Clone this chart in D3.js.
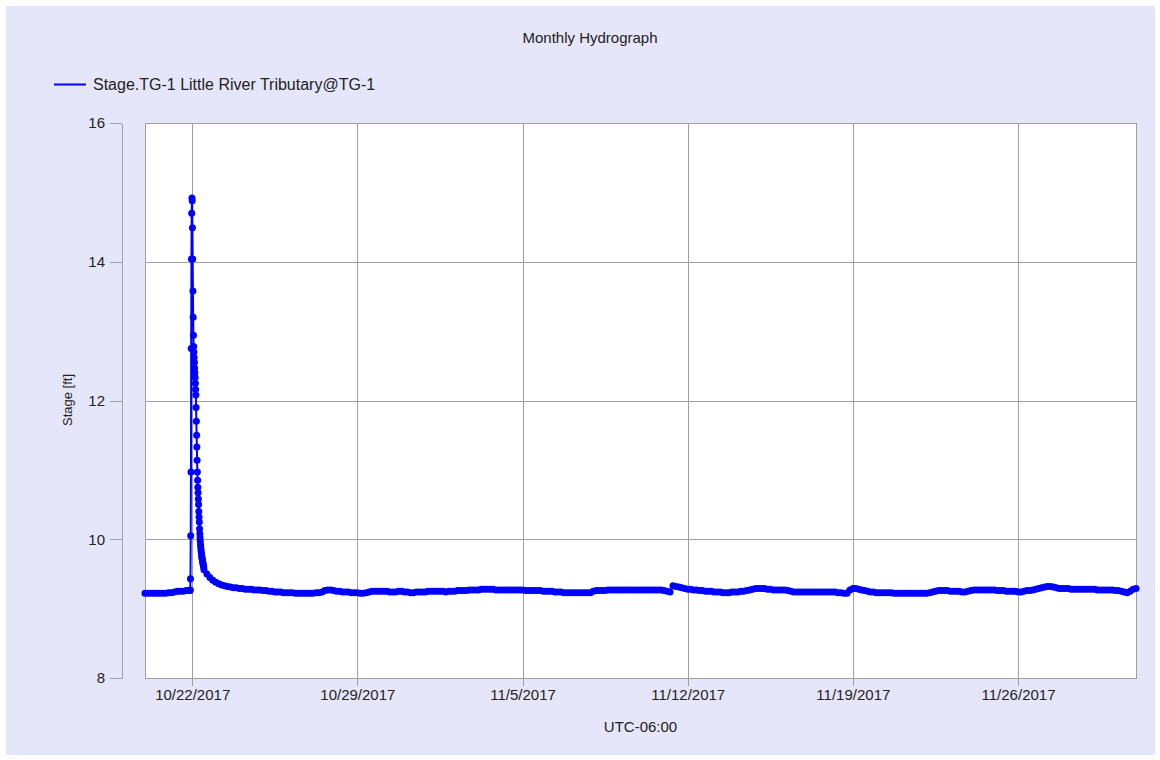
<!DOCTYPE html>
<html>
<head>
<meta charset="UTF-8">
<title>Monthly Hydrograph</title>
<style>
  body { margin: 0; background: #ffffff; }
  #canvas { width: 1160px; height: 760px; }
  text { font-family: "Liberation Sans", Arial, sans-serif; fill: #222; }
  .grid line { stroke: #a0a0a0; stroke-width: 1; shape-rendering: crispEdges; }
  .axis path, .axis line { stroke: #a0a0a0; shape-rendering: crispEdges; }
  .axis text { font-size: 15px; fill: #222; }
</style>
<script src="https://cdn.jsdelivr.net/npm/d3@7"></script>
</head>
<body>
<div id="canvas"></div>
<script>
// labels
var chartTitle = "Monthly Hydrograph";
var seriesName = "Stage.TG-1 Little River Tributary@TG-1";
var yLabel = "Stage [ft]";
var xLabel = "UTC-06:00";

// axis ranges / ticks
var xDomain = ["2017-10-20T00:00Z", "2017-12-01T00:00Z"];
var xTicks = ["2017-10-22", "2017-10-29", "2017-11-05", "2017-11-12", "2017-11-19", "2017-11-26"];
var yTicks = [8, 10, 12, 14, 16];

// stage readings, every 3 hours before the storm
var preStart = "2017-10-20T00:00Z";
var preStepHours = 3;
var preStage = [
  9.22, 9.22, 9.22, 9.22, 9.22, 9.22, 9.22, 9.22,
  9.23, 9.23, 9.24, 9.25, 9.25, 9.25, 9.26
];

// storm readings, every 15 minutes
var stormStart = "2017-10-21T21:30Z";
var stormStepHours = 0.25;
var stormStage = [
  9.26, 9.26, 9.27, 9.43, 10.05, 10.97, 12.75, 14.04, 14.70, 14.92, 14.88, 14.49,
  14.04, 13.58, 13.20, 12.94, 12.78, 12.70, 12.62, 12.55, 12.47, 12.40, 12.33, 12.25,
  12.16, 12.08, 11.90, 11.70, 11.50, 11.33, 11.14, 10.97, 10.85, 10.75, 10.67, 10.58,
  10.50, 10.40, 10.32, 10.25, 10.15, 10.08, 10.02, 9.97, 9.92, 9.88, 9.84, 9.81,
  9.78, 9.75, 9.73, 9.71, 9.69, 9.67, 9.65, 9.63, 9.61, 9.60
];

// recession and base flow, every 3 hours
var postStart = "2017-10-22T12:00Z";
var postStepHours = 3;
var postStage = [
  9.56, 9.50, 9.45, 9.41,                           // 10/22
  9.38, 9.36, 9.34, 9.33, 9.32, 9.31, 9.30, 9.30,   // 10/23
  9.29, 9.29, 9.28, 9.28, 9.28, 9.27, 9.27, 9.27,   // 10/24
  9.26, 9.26, 9.25, 9.25, 9.24, 9.24, 9.24, 9.23,   // 10/25
  9.23, 9.23, 9.23, 9.22, 9.22, 9.22, 9.22, 9.22,   // 10/26
  9.22, 9.22, 9.23, 9.23, 9.24, 9.26, 9.27, 9.27,   // 10/27
  9.26, 9.25, 9.25, 9.24, 9.24, 9.24, 9.23, 9.23,   // 10/28
  9.23, 9.22, 9.22, 9.23, 9.24, 9.25, 9.25, 9.25,   // 10/29
  9.25, 9.25, 9.25, 9.24, 9.24, 9.24, 9.25, 9.25,   // 10/30
  9.24, 9.24, 9.23, 9.23, 9.24, 9.24, 9.24, 9.24,   // 10/31
  9.25, 9.25, 9.25, 9.25, 9.25, 9.25, 9.24, 9.25,   // 11/1
  9.25, 9.25, 9.26, 9.26, 9.26, 9.26, 9.27, 9.27,   // 11/2
  9.27, 9.27, 9.28, 9.28, 9.28, 9.28, 9.28, 9.27,   // 11/3
  9.27, 9.27, 9.27, 9.27, 9.27, 9.27, 9.27, 9.27,   // 11/4
  9.27, 9.26, 9.26, 9.26, 9.26, 9.26, 9.26, 9.25,   // 11/5
  9.25, 9.25, 9.25, 9.24, 9.24, 9.24, 9.23, 9.23,   // 11/6
  9.23, 9.23, 9.23, 9.23, 9.23, 9.23, 9.23, 9.23,   // 11/7
  9.25, 9.26, 9.26, 9.26, 9.26, 9.27, 9.27, 9.27,   // 11/8
  9.27, 9.27, 9.27, 9.27, 9.27, 9.27, 9.27, 9.27,   // 11/9
  9.27, 9.27, 9.27, 9.27, 9.27, 9.27, 9.27, 9.27,   // 11/10
  9.26, 9.25, 9.24, 9.33, 9.32, 9.31, 9.30, 9.29,   // 11/11
  9.28, 9.28, 9.27, 9.27, 9.26, 9.26, 9.25, 9.25,   // 11/12
  9.25, 9.24, 9.24, 9.24, 9.23, 9.23, 9.23, 9.24,   // 11/13
  9.24, 9.24, 9.25, 9.25, 9.26, 9.27, 9.28, 9.29,   // 11/14
  9.29, 9.29, 9.29, 9.28, 9.28, 9.27, 9.27, 9.27,   // 11/15
  9.27, 9.27, 9.26, 9.25, 9.24, 9.24, 9.24, 9.24,   // 11/16
  9.24, 9.24, 9.24, 9.24, 9.24, 9.24, 9.24, 9.24,   // 11/17
  9.24, 9.24, 9.24, 9.23, 9.23, 9.22, 9.22, 9.27,   // 11/18
  9.29, 9.29, 9.28, 9.27, 9.26, 9.25, 9.24, 9.24,   // 11/19
  9.23, 9.23, 9.23, 9.23, 9.23, 9.23, 9.22, 9.22,   // 11/20
  9.22, 9.22, 9.22, 9.22, 9.22, 9.22, 9.22, 9.22,   // 11/21
  9.22, 9.22, 9.23, 9.24, 9.25, 9.26, 9.26, 9.26,   // 11/22
  9.26, 9.25, 9.25, 9.25, 9.25, 9.24, 9.24, 9.25,   // 11/23
  9.26, 9.27, 9.27, 9.27, 9.27, 9.27, 9.27, 9.27,   // 11/24
  9.27, 9.26, 9.26, 9.26, 9.25, 9.25, 9.25, 9.25,   // 11/25
  9.24, 9.24, 9.25, 9.26, 9.26, 9.27, 9.28, 9.29,   // 11/26
  9.30, 9.31, 9.32, 9.32, 9.31, 9.30, 9.29, 9.29,   // 11/27
  9.29, 9.29, 9.28, 9.28, 9.28, 9.28, 9.28, 9.28,   // 11/28
  9.28, 9.28, 9.28, 9.27, 9.27, 9.27, 9.27, 9.27,   // 11/29
  9.27, 9.26, 9.26, 9.25, 9.24, 9.23, 9.25, 9.28,   // 11/30
  9.29                                              // 12/1
];

//build readings
var parseUtc = d3.utcParse("%Y-%m-%dT%H:%MZ");
var parseDay = d3.utcParse("%Y-%m-%d");

function readings(start, stepHours, values) {
  var t0 = parseUtc(start).getTime();
  return values.map(function(v, i) {
    return {t: new Date(t0 + i * stepHours * 3600000), v: v};
  });
}

var dataset = []
  .concat(readings(preStart, preStepHours, preStage))
  .concat(readings(stormStart, stormStepHours, stormStage))
  .concat(readings(postStart, postStepHours, postStage));

//initialize
var outerWidth = 1160;
var outerHeight = 760;
var margin = {top: 123, right: 24, bottom: 82, left: 145};
var innerWidth = outerWidth - margin.left - margin.right;
var innerHeight = outerHeight - margin.top - margin.bottom;

//scale
var x = d3.scaleUtc()
          .domain(xDomain.map(function(d) { return parseUtc(d); }))
          .range([0, innerWidth]);

var y = d3.scaleLinear()
          .domain([8, 16])
          .range([innerHeight, 0]);

var svg = d3.select("#canvas")
            .append("svg")
            .attr("width", outerWidth)
            .attr("height", outerHeight);

// panel background
svg.append("rect")
    .attr("x", 6).attr("y", 6)
    .attr("width", outerWidth - 11).attr("height", outerHeight - 11)
    .attr("fill", "#e6e6fa");

svg.append("text")
    .attr("x", 590).attr("y", 43)
    .attr("text-anchor", "middle")
    .style("font-size", "15px")
    .text(chartTitle);

// legend
svg.append("line")
    .attr("x1", 54).attr("x2", 86)
    .attr("y1", 84.5).attr("y2", 84.5)
    .attr("stroke", "#0000ff").attr("stroke-width", 2);

svg.append("text")
    .attr("x", 93).attr("y", 84)
    .attr("dy", "0.35em")
    .style("font-size", "16px")
    .text(seriesName);

var g = svg.append("g")
    .attr("transform", "translate(" + margin.left + "," + margin.top + ")");

g.append("rect")
    .attr("width", innerWidth)
    .attr("height", innerHeight)
    .attr("fill", "#ffffff");

// grid
var tickDates = xTicks.map(function(d) { return parseDay(d); });

g.append("g").attr("class", "grid")
  .selectAll("line.v")
  .data(tickDates)
  .enter().append("line")
  .attr("x1", function(d) { return Math.round(x(d)) + 0.5; })
  .attr("x2", function(d) { return Math.round(x(d)) + 0.5; })
  .attr("y1", 0).attr("y2", innerHeight);

g.append("g").attr("class", "grid")
  .selectAll("line.h")
  .data(yTicks)
  .enter().append("line")
  .attr("x1", 0).attr("x2", innerWidth)
  .attr("y1", function(d) { return Math.round(y(d)) + 0.5; })
  .attr("y2", function(d) { return Math.round(y(d)) + 0.5; });

g.append("rect")
    .attr("x", 0.5).attr("y", 0.5)
    .attr("width", innerWidth).attr("height", innerHeight)
    .attr("fill", "none")
    .attr("stroke", "#a0a0a0")
    .style("shape-rendering", "crispEdges");

//axis
var xAxis = d3.axisBottom(x)
              .tickValues(tickDates)
              .tickFormat(d3.utcFormat("%-m/%-d/%Y"))
              .tickSize(8)
              .tickSizeOuter(0)
              .tickPadding(3);

g.append("g")
    .attr("class", "axis xaxis")
    .attr("transform", "translate(0," + innerHeight + ")")
    .call(xAxis)
    .call(function(s) { s.select(".domain").remove(); });

var yAxis = d3.axisLeft(y)
              .tickValues(yTicks)
              .tickSize(12)
              .tickSizeOuter(0)
              .tickPadding(5);

g.append("g")
    .attr("class", "axis yaxis")
    .attr("transform", "translate(-23,0)")
    .call(yAxis);

// axis titles
svg.append("text")
    .attr("x", margin.left + innerWidth / 2)
    .attr("y", 732)
    .attr("text-anchor", "middle")
    .style("font-size", "15px")
    .text(xLabel);

svg.append("text")
    .attr("transform", "translate(72,400) rotate(-90)")
    .attr("text-anchor", "middle")
    .style("font-size", "13px")
    .text(yLabel);

//series
var line = d3.line()
             .x(function(d) { return x(d.t); })
             .y(function(d) { return y(d.v); });

g.append("path")
    .datum(dataset)
    .attr("d", line)
    .attr("fill", "none")
    .attr("stroke", "#0000ff")
    .attr("stroke-width", 2);

g.selectAll(".pt")
    .data(dataset)
    .enter().append("circle")
    .attr("class", "pt")
    .attr("cx", function(d) { return x(d.t); })
    .attr("cy", function(d) { return y(d.v); })
    .attr("r", 3.5)
    .attr("fill", "#0000ff");
</script>
</body>
</html>
